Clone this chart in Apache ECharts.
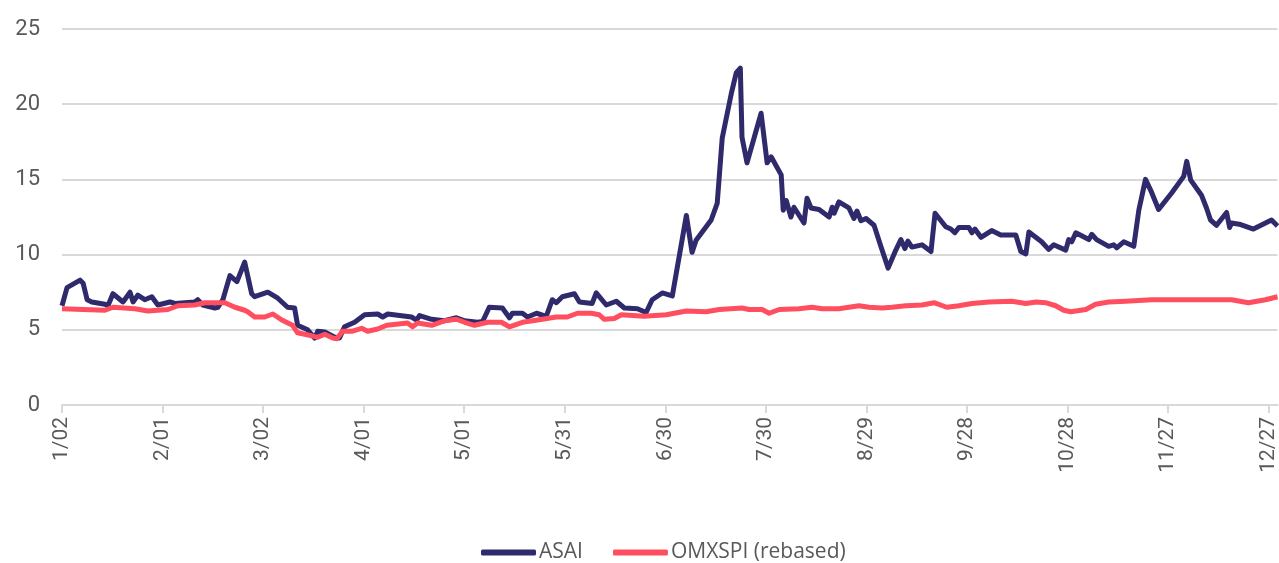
<!DOCTYPE html>
<html>
<head>
<meta charset="utf-8">
<style>
  html, body { margin: 0; padding: 0; background: #ffffff; }
  #chart { width: 1279px; height: 563px; }
</style>
<script src="https://cdn.jsdelivr.net/npm/echarts@6/dist/echarts.min.js"></script>
</head>
<body>
<div id="chart"></div>
<script>
// x values are days after 2 Jan 2020
const tickDays = [0, 30, 60, 90, 120, 150, 180, 210, 240, 270, 300, 330, 360]
const tickLabels = ['1/02', '2/01', '3/02', '4/01', '5/01', '5/31', '6/30', '7/30', '8/29', '9/28', '10/28', '11/27', '12/27']

const asaiDays = [
  0, 1.5, 5.4, 6.3, 7.5, 8.9, 12.8, 13.7, 15.2, 18.2, 20.3, 21.2, 22.6, 24.7, 26.8, 28.6,
  32.2, 33.7, 39.6, 40.5, 42, 45.6, 46.5, 48, 50.1, 52.2, 54.5, 56.6, 57.5, 61.4, 64.4, 67.3,
  69.4, 70.3, 73.3, 75.4, 76.3, 78.4, 81.4, 82.8, 84.3, 87.3, 90.3, 94.2, 95.7, 97.2, 104.3,
  105.8, 106.7, 110.3, 114.1, 117.7, 120.1, 124, 125.5, 127.5, 131.4, 133.5, 134.4, 137.4,
  138.9, 141.6, 144.5, 146.3, 147.5, 149.3, 152.9, 154.4, 158.2, 159.4, 162.4, 165.4, 167.8,
  171.7, 174.3, 176.1, 179.1, 182.1, 186.3, 188, 189.2, 193.7, 195.5, 197, 199.7, 201.2,
  202.4, 202.9, 204.4, 206.5, 208.6, 210.4, 211.6, 214.6, 215.2, 216.1, 217.5, 218.4, 221.4,
  222.3, 223.5, 225.9, 228.9, 229.8, 230.4, 231.8, 234.8, 236.3, 237.2, 238.4, 239.9, 242.3,
  244.4, 246.5, 248.8, 250.3, 251.5, 252.4, 253.6, 256.6, 259.3, 260.5, 263.7, 265.2, 266.4,
  267.6, 270.6, 271.5, 272.4, 274.2, 277.4, 280.1, 284.6, 286.1, 287.6, 288.5, 292.3, 294.4,
  295.9, 299.5, 300.4, 301.3, 302.5, 306.4, 307.3, 308.7, 312.3, 313.8, 314.7, 316.8, 319.8,
  321.3, 323.3, 325.1, 327.2, 331.1, 334.7, 335.6, 336.8, 340, 341.5, 342.7, 344.5, 347.5,
  348.4, 349, 351.7, 355.5, 360.9, 362.7
]
const asaiValues = [
  6.6, 7.8, 8.3, 8.1, 7.0, 6.85, 6.7, 6.6, 7.4, 6.85, 7.5, 6.85, 7.3, 7.0, 7.2, 6.65,
  6.85, 6.75, 6.85, 7.0, 6.65, 6.45, 6.5, 7.0, 8.6, 8.2, 9.5, 7.4, 7.2, 7.5, 7.1, 6.5,
  6.45, 5.3, 5.0, 4.45, 4.9, 4.85, 4.5, 4.45, 5.2, 5.5, 6.0, 6.05, 5.85, 6.05, 5.85,
  5.65, 5.95, 5.7, 5.6, 5.8, 5.6, 5.5, 5.55, 6.5, 6.45, 5.8, 6.1, 6.1,
  5.85, 6.1, 5.9, 7.0, 6.8, 7.2, 7.4, 6.85, 6.75, 7.45, 6.65, 6.9, 6.45,
  6.4, 6.15, 7.0, 7.45, 7.25, 12.6, 10.15, 10.95, 12.3, 13.4, 17.75, 20.7, 22.1,
  22.4, 17.8, 16.1, 17.75, 19.4, 16.1, 16.5, 15.3, 12.95, 13.6, 12.5, 13.15, 12.1,
  13.75, 13.1, 13.0, 12.5, 13.15, 12.75, 13.5, 13.1, 12.4, 12.9, 12.25, 12.4, 11.95,
  10.5, 9.1, 10.3, 11.0, 10.4, 10.9, 10.5, 10.65, 10.2, 12.75, 11.85, 11.7, 11.45,
  11.8, 11.8, 11.45, 11.7, 11.15, 11.6, 11.3, 11.3, 10.2, 10.05, 11.5, 10.85, 10.35,
  10.65, 10.3, 11.0, 10.85, 11.45, 11.0, 11.35, 11.0, 10.55, 10.65, 10.45, 10.85, 10.55,
  12.95, 15.0, 14.15, 13.0, 14.1, 15.2, 16.2, 14.95, 13.95, 13.1, 12.3, 11.95, 12.8,
  11.8, 12.1, 12.0, 11.7, 12.3, 11.9
]

const omxDays = [
  0, 12.8, 15.2, 21.8, 25.6, 31.6, 34.6, 39.6, 42.6, 48.6, 51.6, 54.5, 55.4, 57.5, 60.5,
  62.9, 65.6, 68.8, 70.3, 74.5, 76.3, 78.4, 80.8, 82, 83.7, 86.4, 89.4, 91.2, 94.2, 96.9,
  103.1, 104.6, 106.1, 110.3, 114.1, 117.7, 120.1, 123.1, 127, 131.1, 133.5, 137.4, 141.9,
  147.5, 150.8, 153.8, 157.9, 160.3, 161.8, 164.8, 166.9, 173.7, 180.3, 186.3, 192.2, 196.1,
  202.9, 205, 208.9, 211, 214, 219.9, 223.8, 226.8, 231.8, 237.8, 240.8, 244.7, 247.6,
  251.8, 256.6, 260.2, 264, 267.6, 271.5, 276.6, 283.4, 287.6, 290.6, 293.5, 296.5, 298.9,
  301, 305.5, 308.4, 312.3, 317.4, 325.1, 342.1, 349, 354, 359.1, 362.7
]
const omxValues = [
  6.4, 6.3, 6.5, 6.4, 6.25, 6.35, 6.6, 6.65, 6.8, 6.8, 6.5, 6.3, 6.2, 5.85, 5.85,
  6.05, 5.65, 5.3, 4.8, 4.6, 4.5, 4.7, 4.45, 4.4, 4.9, 4.9, 5.1, 4.9, 5.05, 5.3,
  5.45, 5.2, 5.45, 5.3, 5.6, 5.7, 5.5, 5.3, 5.5, 5.5, 5.2, 5.5, 5.65,
  5.85, 5.85, 6.1, 6.1, 6.0, 5.7, 5.75, 6.0, 5.9, 6.0, 6.25, 6.2, 6.35,
  6.45, 6.35, 6.35, 6.1, 6.35, 6.4, 6.5, 6.4, 6.4, 6.6, 6.5, 6.45, 6.5,
  6.6, 6.65, 6.8, 6.5, 6.6, 6.75, 6.85, 6.9, 6.75, 6.85, 6.8, 6.6, 6.3,
  6.2, 6.35, 6.7, 6.85, 6.9, 7.0, 7.0, 7.0, 6.8, 7.0, 7.2
]

const asaiColor = '#2e2a6c'
const omxColor = '#ff4e5f'
const textColor = '#595959'
const gridColor = '#d9d9d9'

const chart = echarts.init(document.getElementById('chart'))

chart.setOption({
  animation: false,
  grid: { left: 62, right: 0, top: 29, bottom: 158 },
  legend: {
    top: 537,
    left: 476,
    itemWidth: 55,
    itemHeight: 6,
    itemGap: 30,
    icon: 'roundRect',
    textStyle: { color: textColor, fontSize: 21, fontFamily: 'Open Sans', padding: [0, 0, 0, -2] },
    data: ['ASAI', 'OMXSPI (rebased)'],
  },
  xAxis: {
    type: 'value',
    min: 0,
    max: 362.7,
    axisLine: { show: true, lineStyle: { color: gridColor, width: 2 } },
    axisTick: { show: true, length: 8, lineStyle: { color: gridColor, width: 2 }, customValues: tickDays },
    splitLine: { show: false },
    axisLabel: {
      customValues: tickDays,
      rotate: 90,
      margin: 12,
      color: textColor,
      fontSize: 21,
      fontFamily: 'Roboto',
      formatter: (v) => tickLabels[Math.round(v / 30)] || '',
    },
  },
  yAxis: {
    type: 'value',
    min: 0,
    max: 25,
    interval: 5,
    axisLine: { show: false },
    axisTick: { show: false },
    splitLine: { lineStyle: { color: gridColor, width: 2 } },
    axisLabel: { color: textColor, fontSize: 22, fontFamily: 'Roboto', margin: 22 },
  },
  series: [
    {
      name: 'ASAI',
      type: 'line',
      data: asaiDays.map((d, i) => [d, asaiValues[i]]),
      showSymbol: false,
      lineStyle: { color: asaiColor, width: 5, join: 'round' },
      itemStyle: { color: asaiColor },
    },
    {
      name: 'OMXSPI (rebased)',
      type: 'line',
      data: omxDays.map((d, i) => [d, omxValues[i]]),
      showSymbol: false,
      lineStyle: { color: omxColor, width: 5, join: 'round' },
      itemStyle: { color: omxColor },
    },
  ],
})
</script>
</body>
</html>
